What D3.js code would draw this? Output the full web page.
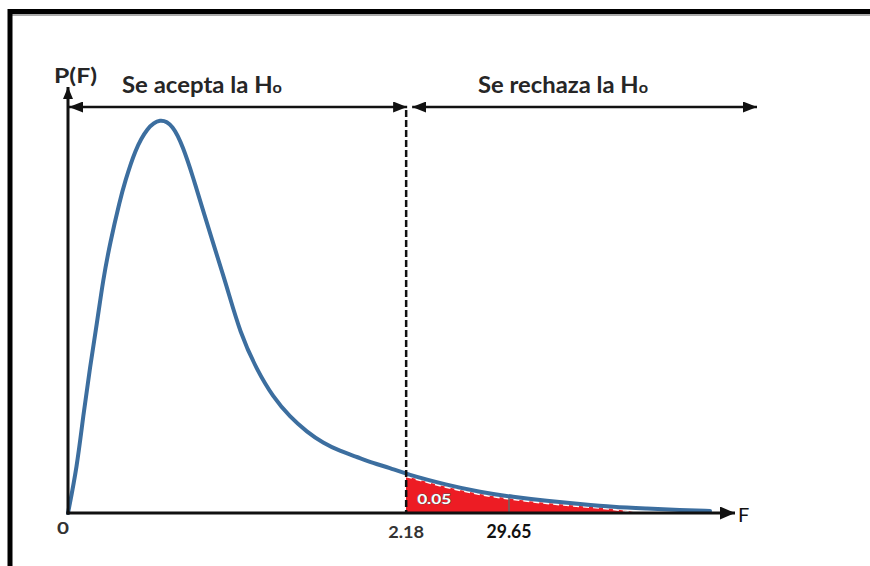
<!DOCTYPE html>
<html>
<head>
<meta charset="utf-8">
<script src="https://cdn.jsdelivr.net/npm/d3@7/dist/d3.min.js"></script>
<style>
  body { margin: 0; background: #fff; }
  text { font-family: Lato, "Open Sans", sans-serif; }
</style>
</head>
<body>
<div id="chart"></div>
<script>
// F values (x) and density P(F)
var fValues = [0, 0.058, 0.097, 0.142, 0.187, 0.226, 0.271, 0.335, 0.367, 0.432, 0.509, 0.593, 0.677, 0.742, 0.806, 0.870, 0.915, 1.025, 1.109, 1.218, 1.322, 1.431, 1.541, 1.644, 1.753, 1.863, 1.966, 2.076, 2.179, 2.444, 2.656, 2.869, 3.088, 3.301, 3.514, 3.733, 3.946, 4.139];
var density = [0, 0.092, 0.192, 0.292, 0.380, 0.466, 0.540, 0.626, 0.662, 0.726, 0.770, 0.790, 0.776, 0.732, 0.672, 0.606, 0.560, 0.452, 0.360, 0.286, 0.232, 0.192, 0.162, 0.140, 0.124, 0.112, 0.100, 0.090, 0.078, 0.056, 0.042, 0.032, 0.024, 0.018, 0.012, 0.009, 0.006, 0.004];

var criticalF = 2.18;
var redEnd = 3.68;
var alphaLabel = "0.05";
var tickPositions = [0, 2.18, 2.843];
var tickLabels = ["0", "2.18", "29.65"];
var regionLabels = ["Se acepta la H", "Se rechaza la H"];

var width = 870, height = 566;
var svg = d3.select("#chart").append("svg")
	.attr("width", width)
	.attr("height", height);

var x = d3.scaleLinear().domain([0, 4.3]).range([68, 735]);
var y = d3.scaleLinear().domain([0, 0.8]).range([513, 113]);

var points = fValues.map(function(f, i) { return {f: f, p: density[i]}; });

// frame
svg.append("line")
	.attr("x1", 12).attr("x2", width).attr("y1", 15).attr("y2", 15)
	.attr("stroke", "#aaa").attr("stroke-width", 2);
svg.append("rect")
	.attr("x", 10).attr("y", 11.5)
	.attr("width", 1000).attr("height", 1000)
	.attr("fill", "none").attr("stroke", "#000").attr("stroke-width", 5);

// arrow markers
var defs = svg.append("defs");
function marker(id, w, h) {
	defs.append("marker")
		.attr("id", id)
		.attr("markerUnits", "userSpaceOnUse")
		.attr("viewBox", "0 0 " + w + " " + h)
		.attr("markerWidth", w).attr("markerHeight", h)
		.attr("refX", w).attr("refY", h / 2)
		.attr("orient", "auto-start-reverse")
		.append("path")
		.attr("d", "M0,0L" + w + "," + (h / 2) + "L0," + h + "Z")
		.attr("fill", "#111");
}
marker("arrowBig", 15, 13);
marker("arrowMid", 14, 11);
marker("arrowSmall", 12, 10);

// rejection area (red)
var tail = points.filter(function(d) { return d.f >= criticalF - 0.01 && d.f <= redEnd; });
tail.push({f: redEnd, p: 0});
var areaGen = d3.area()
	.x(function(d) { return x(d.f); })
	.y0(y(0))
	.y1(function(d) { return Math.min(y(d.p) + 2, y(0)); })
	.curve(d3.curveMonotoneX);
svg.append("path")
	.datum(tail)
	.attr("d", areaGen)
	.attr("fill", "#ed1c24");

svg.append("path")
	.datum(tail)
	.attr("d", areaGen.lineY1())
	.attr("fill", "none")
	.attr("stroke", "#fff")
	.attr("stroke-width", 1.5)
	.attr("stroke-dasharray", "6,4")
	.attr("transform", "translate(0,0.5)");

// tick inside the red area
svg.append("line")
	.attr("x1", x(tickPositions[2])).attr("x2", x(tickPositions[2]))
	.attr("y1", y(0)).attr("y2", y(0) - 16)
	.attr("stroke", "#666").attr("stroke-width", 1.5);

// alpha label
svg.append("text")
	.attr("x", x(criticalF) + 11).attr("y", 504)
	.attr("font-size", 13).attr("font-weight", 700)
	.attr("fill", "#fff").attr("stroke", "#555").attr("stroke-width", 0.8)
	.attr("paint-order", "stroke")
	.attr("textLength", 34).attr("lengthAdjust", "spacingAndGlyphs")
	.text(alphaLabel);

// density curve
var line = d3.line()
	.x(function(d) { return x(d.f); })
	.y(function(d) { return y(d.p); })
	.curve(d3.curveBasis);
svg.append("path")
	.datum(points)
	.attr("d", line)
	.attr("fill", "none")
	.attr("stroke", "#3c6e9f")
	.attr("stroke-width", 4)
	.attr("stroke-linecap", "round");

// axes
svg.append("line")
	.attr("x1", x(0)).attr("x2", x(0))
	.attr("y1", y(0) + 1.5).attr("y2", 87)
	.attr("stroke", "#111").attr("stroke-width", 3)
	.attr("marker-end", "url(#arrowSmall)");
svg.append("line")
	.attr("x1", x(0) - 1.5).attr("x2", 735)
	.attr("y1", y(0)).attr("y2", y(0))
	.attr("stroke", "#111").attr("stroke-width", 3)
	.attr("marker-end", "url(#arrowBig)");

// critical value dashed line
svg.append("line")
	.attr("x1", x(criticalF)).attr("x2", x(criticalF))
	.attr("y1", 110).attr("y2", y(0))
	.attr("stroke", "#111").attr("stroke-width", 2.5)
	.attr("stroke-dasharray", "7,3");

// region arrows
var arrowY = 107;
svg.append("line")
	.attr("x1", x(0) + 1).attr("x2", x(criticalF) + 1)
	.attr("y1", arrowY).attr("y2", arrowY)
	.attr("stroke", "#111").attr("stroke-width", 2.5)
	.attr("marker-start", "url(#arrowMid)")
	.attr("marker-end", "url(#arrowMid)");
svg.append("line")
	.attr("x1", x(criticalF) + 6).attr("x2", 757)
	.attr("y1", arrowY).attr("y2", arrowY)
	.attr("stroke", "#111").attr("stroke-width", 2.5)
	.attr("marker-start", "url(#arrowMid)")
	.attr("marker-end", "url(#arrowMid)");

// region labels
var regionX = [122, 478];
var regionW = [160, 170];
regionLabels.forEach(function(t, i) {
	var txt = svg.append("text")
		.attr("x", regionX[i]).attr("y", 93)
		.attr("font-size", 22).attr("font-weight", 700)
		.attr("fill", "#262626")
		.attr("textLength", regionW[i]).attr("lengthAdjust", "spacingAndGlyphs");
	txt.append("tspan").text(t);
	txt.append("tspan").attr("font-size", 15).text("o");
});

// axis titles
svg.append("text")
	.attr("x", 54).attr("y", 83)
	.attr("font-size", 21).attr("font-weight", 700)
	.attr("fill", "#262626")
	.attr("textLength", 43).attr("lengthAdjust", "spacingAndGlyphs")
	.text("P(F)");
svg.append("text")
	.attr("x", 738).attr("y", 522)
	.attr("font-size", 20)
	.attr("fill", "#111")
	.text("F");

// tick labels
var tickSizes = [17, 17, 18];
var tickWidths = [12, 36, 45];
var tickColors = ["#333", "#333", "#111"];
svg.selectAll(".ticklabel")
	.data(tickPositions)
	.enter().append("text")
	.attr("class", "ticklabel")
	.attr("x", function(d, i) { return (i === 0 ? x(d) - 5 : x(d)) - tickWidths[i] / 2; })
	.attr("y", function(d, i) { return i === 0 ? 534 : 538; })
	.attr("font-size", function(d, i) { return tickSizes[i]; })
	.attr("font-weight", 700)
	.attr("fill", function(d, i) { return tickColors[i]; })
	.attr("textLength", function(d, i) { return tickWidths[i]; })
	.attr("lengthAdjust", "spacingAndGlyphs")
	.text(function(d, i) { return tickLabels[i]; });
</script>
</body>
</html>
